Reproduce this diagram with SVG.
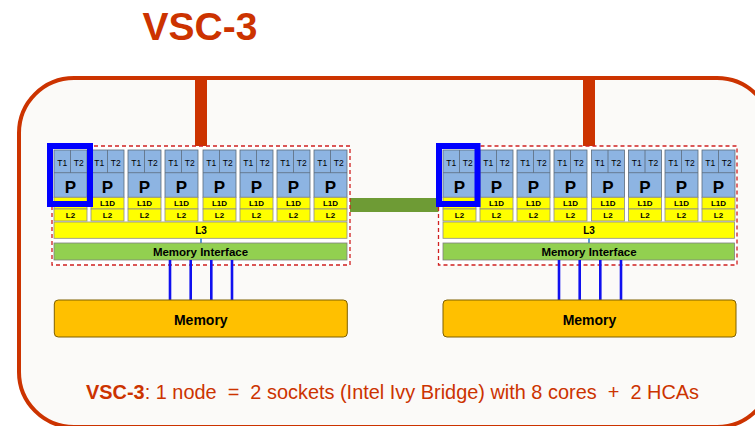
<svg xmlns="http://www.w3.org/2000/svg" xmlns:xlink="http://www.w3.org/1999/xlink" width="755" height="426" viewBox="0 0 755 426">
  <style>
    text { font-family: "Liberation Sans", Arial, sans-serif; fill: #000; text-anchor: middle; }
    .cell { fill: #8DB4E2; stroke: #5C6B7C; stroke-width: 0.8; }
    .div { stroke: #5C6B7C; stroke-width: 0.8; }
    .cache { fill: #FFFF00; stroke: #8C8C8C; stroke-width: 0.8; }
    .mi { fill: #92D050; stroke: #7F7F7F; stroke-width: 0.8; }
    .mem { fill: #FFC000; stroke: #7F6000; stroke-width: 1; }
    .sock { fill: #FFFFFF; stroke: #D02020; stroke-width: 1.3; stroke-dasharray: 4 3; }
    .sel { fill: none; stroke: #0000FF; stroke-width: 6; }
    .thr { font-size: 8.5px; }
    .p { font-size: 17px; font-weight: bold; }
    .sm { font-size: 8px; font-weight: bold; }
    .lbl { font-weight: bold; }
    .bus { stroke: #1010F0; stroke-width: 2.6; }
    .uplink { fill: #CC3300; }
  </style>
  <defs>
    <!-- one core: two hardware threads, P, L1D and L2 -->
    <g id="core">
      <rect class="cell" x="0" y="150" width="33" height="47.3"/>
      <line class="div" x1="0" y1="172.7" x2="33" y2="172.7"/>
      <line class="div" x1="16.5" y1="150" x2="16.5" y2="172.7"/>
      <text class="thr" x="8.25" y="165.5">T1</text>
      <text class="thr" x="24.75" y="165.5">T2</text>
      <text class="p" x="16.5" y="193">P</text>
      <rect class="cache" x="0" y="197.3" width="33" height="11.7"/>
      <text class="sm" x="16.5" y="206">L1D</text>
      <rect class="cache" x="0" y="209" width="33" height="12"/>
      <text class="sm" x="16.5" y="217.8">L2</text>
    </g>
  </defs>

  <rect x="0" y="0" width="755" height="426" fill="#FFFFFF"/>

  <!-- title -->
  <text x="200" y="40" style="font-size:39px;font-weight:bold;fill:#CC3300">VSC-3</text>

  <!-- node enclosure -->
  <g id="node">
    <rect x="19" y="78" width="753" height="349" rx="55" ry="55" fill="#FBFAF8" stroke="#CC3300" stroke-width="4"/>
  </g>

  <!-- connectors -->
  <g id="connectors">
    <rect class="uplink" x="195" y="78" width="12" height="69"/>
    <rect class="uplink" x="583" y="78" width="12" height="69"/>
    <rect x="347" y="198" width="96" height="14" fill="#6E9B35"/>
  </g>

  <!-- socket 0 -->
  <g id="socket0">
    <rect class="sock" x="52" y="146" width="298" height="119"/>
    <g id="s0-cores">
      <use xlink:href="#core" x="54"/>
      <use xlink:href="#core" x="91"/>
      <use xlink:href="#core" x="128"/>
      <use xlink:href="#core" x="165"/>
      <use xlink:href="#core" x="203"/>
      <use xlink:href="#core" x="240"/>
      <use xlink:href="#core" x="277"/>
      <use xlink:href="#core" x="314"/>
    </g>
    <rect class="cache" x="54" y="222" width="293" height="16.3"/>
    <text class="lbl" x="201" y="233.5" style="font-size:10px">L3</text>
    <line x1="201" y1="238.3" x2="201" y2="243" stroke="#5B9BD5" stroke-width="2"/>
    <rect class="mi" x="54" y="243" width="293" height="17"/>
    <text class="lbl" x="200.5" y="255.5" style="font-size:11.5px">Memory Interface</text>
    <rect class="sel" x="50" y="146" width="40" height="58"/>
  </g>

  <!-- socket 1 -->
  <g id="socket1">
    <rect class="sock" x="438.5" y="146" width="298.5" height="119"/>
    <g id="s1-cores">
      <use xlink:href="#core" x="443"/>
      <use xlink:href="#core" x="480"/>
      <use xlink:href="#core" x="517"/>
      <use xlink:href="#core" x="554"/>
      <use xlink:href="#core" x="591.5"/>
      <use xlink:href="#core" x="628.5"/>
      <use xlink:href="#core" x="665"/>
      <use xlink:href="#core" x="702"/>
    </g>
    <rect class="cache" x="443" y="222" width="291.5" height="16.3"/>
    <text class="lbl" x="589" y="233.5" style="font-size:10px">L3</text>
    <line x1="589" y1="238.3" x2="589" y2="243" stroke="#5B9BD5" stroke-width="2"/>
    <rect class="mi" x="443" y="243" width="291.5" height="17"/>
    <text class="lbl" x="589" y="255.5" style="font-size:11.5px">Memory Interface</text>
    <rect class="sel" x="439" y="146" width="38.5" height="58"/>
  </g>

  <!-- memory channels -->
  <g id="channels">
    <line class="bus" x1="170" y1="260" x2="170" y2="300"/>
    <line class="bus" x1="190.7" y1="260" x2="190.7" y2="300"/>
    <line class="bus" x1="211.3" y1="260" x2="211.3" y2="300"/>
    <line class="bus" x1="232" y1="260" x2="232" y2="300"/>
    <line class="bus" x1="559" y1="260" x2="559" y2="300"/>
    <line class="bus" x1="579.7" y1="260" x2="579.7" y2="300"/>
    <line class="bus" x1="600.3" y1="260" x2="600.3" y2="300"/>
    <line class="bus" x1="621" y1="260" x2="621" y2="300"/>
  </g>

  <g id="memory0">
    <rect class="mem" x="54.3" y="300" width="293" height="37" rx="4" ry="4"/>
    <text class="lbl" x="200.8" y="325" style="font-size:14px">Memory</text>
  </g>
  <g id="memory1">
    <rect class="mem" x="443" y="300" width="293" height="37" rx="4" ry="4"/>
    <text class="lbl" x="589.5" y="325" style="font-size:14px">Memory</text>
  </g>

  <!-- caption -->
  <text x="86" y="399" textLength="613" lengthAdjust="spacingAndGlyphs" style="font-size:21px;fill:#CC3300;text-anchor:start;white-space:pre"><tspan font-weight="bold">VSC-3</tspan>: 1 node  =  2 sockets (Intel Ivy Bridge) with 8 cores  +  2 HCAs</text>
</svg>
